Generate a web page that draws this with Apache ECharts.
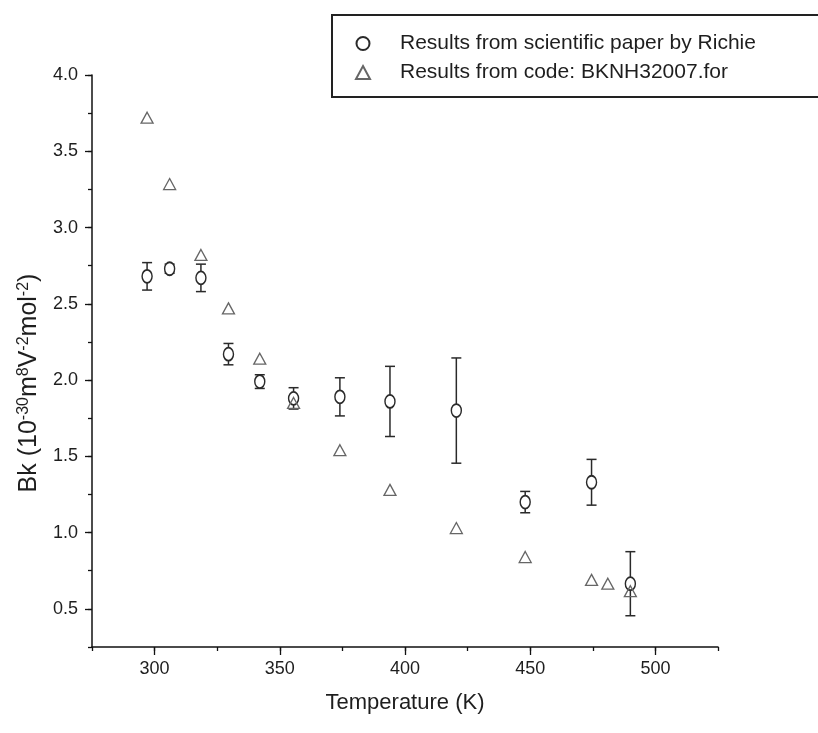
<!DOCTYPE html>
<html>
<head>
<meta charset="utf-8">
<script src="https://cdn.jsdelivr.net/npm/echarts@6/dist/echarts.min.js"></script>
<style>
  html, body { margin: 0; padding: 0; background: #fff; }
  #chart { width: 818px; height: 733px; }
</style>
</head>
<body>
<div id="chart"></div>
<script>
// Paper values (with uncertainties) and values computed by the code
const paperTemps = [297, 306, 318.5, 329.5, 342, 355.5, 374, 394, 420.5, 448, 474.5, 490];
const paperBk    = [2.68, 2.73, 2.67, 2.17, 1.99, 1.88, 1.89, 1.86, 1.80, 1.20, 1.33, 0.665];
const paperErr   = [0.09, 0.03, 0.09, 0.07, 0.045, 0.07, 0.125, 0.23, 0.345, 0.07, 0.15, 0.21];

const codeTemps = [297, 306, 318.5, 329.5, 342, 355.5, 374, 394, 420.5, 448, 474.5, 481, 490];
const codeBk    = [3.72, 3.285, 2.82, 2.47, 2.14, 1.85, 1.54, 1.28, 1.03, 0.84, 0.69, 0.665, 0.616];

const xMajorTicks = [300, 350, 400, 450, 500];
const yMajorTicks = [0.5, 1.0, 1.5, 2.0, 2.5, 3.0, 3.5, 4.0];

const seriesNames = ['Results from scientific paper by Richie', 'Results from code: BKNH32007.for'];

const FONT = "'Liberation Sans', Arial, Helvetica, sans-serif";
const INK = '#1e1e1e';

const paperPoints = paperTemps.map((t, i) => [t, paperBk[i]]);
const paperBars = paperTemps.map((t, i) => [t, paperBk[i] - paperErr[i], paperBk[i] + paperErr[i]]);
const codePoints = codeTemps.map((t, i) => [t, codeBk[i]]);

const chart = echarts.init(document.getElementById('chart'), null, { renderer: 'canvas' });

const baseX = { type: 'value', min: 275, max: 525, gridIndex: 0, position: 'bottom' };
const baseY = { type: 'value', min: 0.25, max: 4.0, gridIndex: 0, position: 'left' };

chart.setOption({
  backgroundColor: '#ffffff',
  animation: false,
  grid: { left: 92, right: 100, top: 75, bottom: 86 },
  legend: {
    orient: 'vertical',
    left: 332,
    top: 15,
    padding: [18, 200, 14, 23],
    itemGap: 8,
    itemWidth: 14,
    itemHeight: 13,
    symbolKeepAspect: true,
    borderColor: '#222',
    borderWidth: 2,
    textStyle: { fontFamily: FONT, fontSize: 21, color: INK, padding: [0, 0, 0, 25] },
    data: [
      { name: seriesNames[0], icon: 'circle' },
      { name: seriesNames[1], icon: 'triangle' }
    ]
  },
  xAxis: [
    Object.assign({}, baseX, {
      interval: 25,
      name: 'Temperature (K)',
      nameLocation: 'middle',
      nameGap: 45,
      nameTextStyle: { fontFamily: FONT, fontSize: 22, color: INK },
      axisLine: { lineStyle: { color: '#111', width: 1.5 } },
      axisTick: { length: 4, lineStyle: { color: '#111', width: 1.3 } },
      axisLabel: {
        margin: 13, fontFamily: FONT, fontSize: 18, color: INK,
        formatter: v => (v % 50 === 0 ? String(v) : '')
      },
      splitLine: { show: false }
    }),
    Object.assign({}, baseX, {
      axisLine: { show: false },
      axisTick: { length: 8, customValues: xMajorTicks, lineStyle: { color: '#111', width: 1.3 } },
      axisLabel: { show: false },
      splitLine: { show: false }
    })
  ],
  yAxis: [
    Object.assign({}, baseY, {
      interval: 0.25,
      name: '{b|Bk (10}{s|-30}{b|m}{s|8}{b|V}{s|-2}{b|mol}{s|-2}{b|)}',
      nameLocation: 'middle',
      nameGap: 31,
      nameTextStyle: {
        padding: [0, 44, 0, 0],
        rich: {
          b: { fontFamily: FONT, fontSize: 25, color: INK, lineHeight: 27 },
          s: { fontFamily: FONT, fontSize: 16, color: INK, verticalAlign: 'top', lineHeight: 16 }
        }
      },
      axisLine: { lineStyle: { color: '#111', width: 1.5 } },
      axisTick: { length: 4, lineStyle: { color: '#111', width: 1.3 } },
      axisLabel: {
        margin: 14, fontFamily: FONT, fontSize: 18, color: INK,
        formatter: v => (Math.abs(v * 2 - Math.round(v * 2)) < 1e-6 ? v.toFixed(1) : '')
      },
      splitLine: { show: false }
    }),
    Object.assign({}, baseY, {
      axisLine: { show: false },
      axisTick: { length: 7, customValues: yMajorTicks, lineStyle: { color: '#111', width: 1.3 } },
      axisLabel: { show: false },
      splitLine: { show: false }
    })
  ],
  series: [
    {
      // vertical error bars with caps for the paper values
      type: 'custom',
      name: 'errorbars',
      xAxisIndex: 0,
      yAxisIndex: 0,
      z: 1,
      data: paperBars,
      encode: { x: 0, y: [1, 2] },
      renderItem: function (params, api) {
        const x = api.value(0);
        const top = api.coord([x, api.value(2)]);
        const bot = api.coord([x, api.value(1)]);
        const half = 5;
        const style = { stroke: '#2a2a2a', lineWidth: 1.5 };
        return {
          type: 'group',
          children: [
            { type: 'line', shape: { x1: top[0], y1: top[1], x2: bot[0], y2: bot[1] }, style: style },
            { type: 'line', shape: { x1: top[0] - half, y1: top[1], x2: top[0] + half, y2: top[1] }, style: style },
            { type: 'line', shape: { x1: bot[0] - half, y1: bot[1], x2: bot[0] + half, y2: bot[1] }, style: style }
          ]
        };
      }
    },
    {
      name: seriesNames[0],
      type: 'scatter',
      xAxisIndex: 0,
      yAxisIndex: 0,
      z: 3,
      symbol: 'circle',
      symbolSize: [10, 13],
      itemStyle: { color: '#ffffff', borderColor: '#2a2a2a', borderWidth: 1.6, opacity: 1 },
      data: paperPoints
    },
    {
      name: seriesNames[1],
      type: 'scatter',
      xAxisIndex: 0,
      yAxisIndex: 0,
      z: 4,
      symbol: 'triangle',
      symbolSize: [12, 11],
      itemStyle: { color: 'rgba(255,255,255,0)', borderColor: '#666', borderWidth: 1.3, opacity: 1 },
      data: codePoints
    }
  ]
});
</script>
</body>
</html>
